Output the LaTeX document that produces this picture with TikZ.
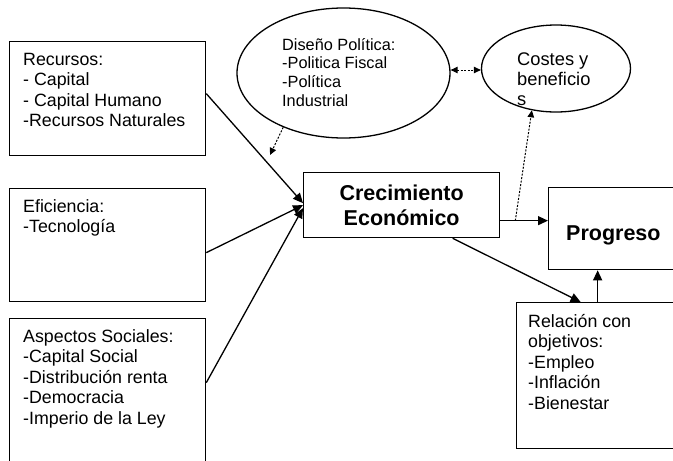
\documentclass[tikz,border=0pt]{standalone}
\usepackage{fontspec}
\setmainfont{Liberation Sans}
\usetikzlibrary{shapes.geometric,arrows.meta}
\newcommand\mylines[2]{\parbox[t]{230pt}{#1\raggedright #2}}
\begin{document}
\begin{tikzpicture}[x=1pt,y=-1pt,
  box/.style={draw, line width=1.3pt, rectangle, anchor=north west, inner sep=0pt},
  oval/.style={draw, line width=1.3pt, ellipse, inner sep=0pt},
  txt/.style={anchor=base west, inner sep=0pt},
  conn/.style={line width=1.3pt, -{Triangle[length=10pt,width=9pt]}},
  dotarrow/.style={line width=1pt, dash pattern=on 2pt off 1.5pt, -{Triangle[length=7pt,width=6.5pt]}},
]
\useasboundingbox (0,0) rectangle (673,461);
\clip (0,0) rectangle (673,461);
\def\bodyfont{\fontsize{17.8}{20.5}\selectfont}
% boxes
\node[box, minimum width=196pt, minimum height=114pt] (rec) at (9,41) {};
\node[txt] (trec) at (23,65) {\mylines{\bodyfont}{Recursos:\\- Capital\\- Capital Humano\\-Recursos Naturales}};
\node[box, minimum width=196pt, minimum height=113pt] (eff) at (9,188) {};
\node[txt] (teff) at (23,212) {\mylines{\bodyfont}{Eficiencia:\\-Tecnología}};
\node[box, minimum width=196pt, minimum height=160pt] (asp) at (9,318) {};
\node[txt] (tasp) at (23,342) {\mylines{\bodyfont}{Aspectos Sociales:\\-Capital Social\\-Distribución renta\\-Democracia\\-Imperio de la Ley}};
\node[box, minimum width=196pt, minimum height=65pt, align=center, font=\fontsize{21.5}{25}\selectfont\bfseries] (cre) at (303,172) {Crecimiento\\Económico};
\node[box, minimum width=140pt, minimum height=82pt] (prog) at (548,187) {};
\node[txt, font=\fontsize{21.5}{25}\selectfont\bfseries] (tprog) at (566,240) {Progreso};
\node[box, minimum width=162pt, minimum height=146pt] (rel) at (516,302) {};
\node[txt] (trel) at (528,327) {\mylines{\bodyfont}{Relación con\\objetivos:\\-Empleo\\-Inflación\\-Bienestar}};
% ellipses
\node[oval, minimum width=213pt, minimum height=130pt] (dis) at (343.5,73) {};
\node[txt] (tdis) at (282,50) {\mylines{\fontsize{16.3}{18.7}\selectfont}{Diseño Política:\\-Politica Fiscal\\-Política\\Industrial}};
\node[oval, minimum width=149pt, minimum height=87pt] (cos) at (556,68.5) {};
\node[txt] (tcos) at (517,65) {\mylines{\fontsize{18.3}{20}\selectfont}{Costes y\\beneficio\\s}};
% connectors
\draw[conn] ([yshift=5pt]rec.east) -- ([yshift=2pt]cre.west);
\draw[conn] ([yshift=-7.5pt]eff.east) -- (cre.west);
\draw[conn] ([yshift=16pt]asp.east) -- ([yshift=-3pt]cre.west);
\coordinate (dend) at (270,155);
\draw[dotarrow] (dis.222) -- (dend);
\draw[dotarrow, {Triangle[length=7pt,width=6.5pt]}-{Triangle[length=7pt,width=6.5pt]}] ([yshift=3pt]dis.east) -- ([yshift=-1.5pt]cos.west);
\coordinate (cp) at ([yshift=-15.5pt]cre.east);
\draw[conn] (cp) -- (cp -| prog.west);
\coordinate (cq) at ([xshift=15pt]cp);
\draw[dotarrow] (cq) -- (cos.240);
\draw[conn] ([xshift=51pt]cre.south) -- ([xshift=-17pt]rel.north);
\draw[conn] (rel.north) -- (rel.north |- prog.south);
\end{tikzpicture}
\end{document}
